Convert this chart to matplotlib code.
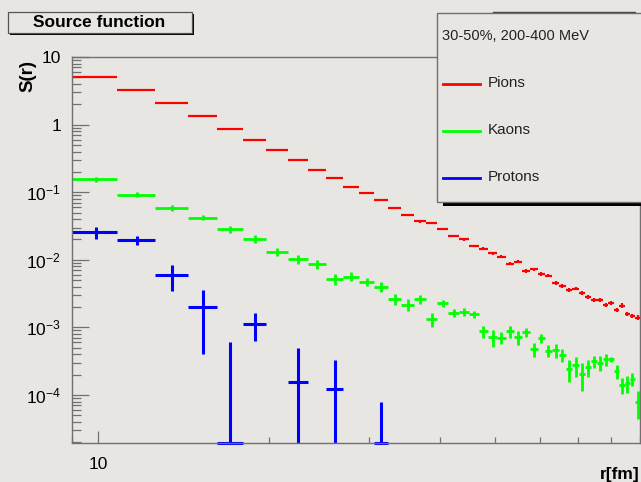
import numpy as np
import matplotlib
matplotlib.use("Agg")
import matplotlib.pyplot as plt
from matplotlib.patches import Rectangle
from matplotlib.lines import Line2D
from matplotlib.ticker import LogLocator, FuncFormatter, NullFormatter

plt.rcParams['font.family'] = ['Liberation Sans', 'DejaVu Sans']
plt.rcParams['mathtext.fontset'] = 'custom'
plt.rcParams['mathtext.rm'] = 'Liberation Sans'

# 45 bins of 1.8 fm between 9 and 90 fm
r_min, r_max, n_bins = 9.0, 90.0, 45
s_min, s_max = 1.95e-5, 10.0

pion_s = [5.14, 3.22, 2.07, 1.33, 0.852, 0.593, 0.417, 0.300, 0.216, 0.164,
          0.119, 0.096, 0.0757, 0.0583, 0.0459, 0.0369, 0.0345, 0.0288, 0.0227, 0.0200,
          0.01595, 0.01456, 0.01257, 0.01107, 0.00873, 0.00934, 0.00687, 0.0072, 0.00614, 0.00585,
          0.00456, 0.00412, 0.00356, 0.00376, 0.00321, 0.00286, 0.00255, 0.00258, 0.00213, 0.00231,
          0.00182, 0.0021, 0.00158, 0.00148, 0.0014]
pion_err = [0.02, 0.015, 0.012, 0.009, 0.007, 0.006, 0.005, 0.004, 0.0035, 0.003,
            0.0024, 0.0024, 0.0023, 0.0017, 0.0016, 0.0013, 0.0012, 0.0012, 0.0009, 0.0008,
            0.0007, 0.00065, 0.00063, 0.00055, 0.00044, 0.00047, 0.00041, 0.00043, 0.00037, 0.00035,
            0.0003, 0.00027, 0.00023, 0.00024, 0.00022, 0.0002, 0.00018, 0.00018, 0.00015, 0.00016,
            0.000137, 0.000158, 0.000119, 0.000111, 0.000105]

kaon_s = [0.155, 0.0918, 0.0589, 0.0419, 0.0281, 0.0202, 0.0130, 0.0102, 0.00863, 0.00517,
          0.00566, 0.00477, 0.00398, 0.00264, 0.00218, 0.00261, 0.00132, 0.00228, 0.00164, 0.0017,
          0.00158, 0.000887, 0.000716, 0.000707, 0.000887, 0.000716, 0.000858, 0.00048, 0.000699, 0.000453,
          0.000464, 0.000392, 0.000243, 0.000275, 0.000205, 0.000257, 0.000319, 0.000301, 0.000338, 0.000341,
          0.000227, 0.000141, 0.000149, 0.000175, 7.96e-5]
kaon_err = [0.012, 0.0074, 0.0057, 0.0037, 0.0034, 0.0027, 0.0018, 0.0015, 0.0013, 0.00098,
            0.00085, 0.00064, 0.00064, 0.00053, 0.00041, 0.00042, 0.0003, 0.00028, 0.00022, 0.00025,
            0.00019, 0.00018, 0.00021, 0.00014, 0.00018, 0.00016, 0.00013, 0.000115, 0.000105, 0.00009,
            0.00011, 0.000083, 0.000085, 0.000088, 0.000092, 0.00007, 0.000064, 0.000072, 0.000068, 0.00003,
            0.000052, 0.000037, 0.000042, 0.00004, 0.000036]

# protons only populate the first bins
proton_s = [0.0254, 0.0196, 0.00586, 0.0020, 0.0, 0.00113, 0.0, 1.55e-4, 0.0, 1.23e-4,
            0.0, 0.0, 0.0]
proton_err = [0.0054, 0.0031, 0.0024, 0.0016, 6.0e-4, 5.0e-4, 0.0, 3.35e-4, 0.0, 2.04e-4,
              0.0, 0.0, 7.9e-5]

labels = ["Pions", "Kaons", "Protons"]
colors = ["#ff0000", "#00ff00", "#0000ff"]
widths = [1.6, 2.0, 2.2]
header = "30-50%, 200-400 MeV"

edges = np.linspace(r_min, r_max, n_bins + 1)
centers = 0.5 * (edges[:-1] + edges[1:])

W, H = 641, 482
bg = "#e8e6e3"
fig = plt.figure(figsize=(W / 100, H / 100), dpi=100, facecolor=bg)


def fx(px):
    return px / W


def fy(py):
    return 1 - py / H


ax = fig.add_axes([fx(72), fy(443), fx(640) - fx(72), fy(57) - fy(443)])
ax.set_facecolor(bg)
ax.set_xscale("log")
ax.set_yscale("log")
ax.set_xlim(r_min, r_max)
ax.set_ylim(s_min, s_max)


def draw_hist(s, err, color, lw):
    s = np.asarray(s, dtype=float)
    err = np.asarray(err, dtype=float)
    n = len(s)
    lo, hi, c = edges[:n], edges[1:n + 1], centers[:n]
    keep = (s > 0) | (err > 0)
    y = np.clip(s, s_min, None)
    ax.hlines(y[keep], lo[keep], hi[keep], colors=color, lw=lw, clip_on=False)
    e = err > 0
    ax.vlines(c[e], np.clip(s - err, s_min, None)[e], (s + err)[e],
              colors=color, lw=lw, clip_on=False)


for s, err, col, lw in zip([pion_s, kaon_s, proton_s], [pion_err, kaon_err, proton_err],
                           colors, widths):
    draw_hist(s, err, col, lw)

# axis styling
for side in ["left", "bottom", "top", "right"]:
    ax.spines[side].set_color("#707070")
    ax.spines[side].set_linewidth(1.0)


def ylab(v, pos):
    e = int(round(np.log10(v)))
    if e == 1:
        return "10"
    if e == 0:
        return "1"
    return r"$\mathregular{10^{%d}}$" % e


ax.yaxis.set_major_locator(LogLocator(base=10, numticks=20))
ax.yaxis.set_minor_locator(LogLocator(base=10, subs=np.arange(2, 10), numticks=20))
ax.yaxis.set_major_formatter(FuncFormatter(ylab))
ax.yaxis.set_minor_formatter(NullFormatter())
ax.xaxis.set_major_locator(LogLocator(base=10, numticks=10))
ax.xaxis.set_minor_locator(LogLocator(base=10, subs=np.arange(2, 10), numticks=10))
ax.xaxis.set_major_formatter(FuncFormatter(lambda v, p: "%d" % v))
ax.xaxis.set_minor_formatter(NullFormatter())

ax.tick_params(axis="y", which="major", direction="in", length=12, width=0.9,
               color="#707070", labelsize=12.5, pad=8)
ax.tick_params(axis="y", which="minor", direction="in", length=6.5, width=0.9, color="#707070")
ax.tick_params(axis="x", which="major", direction="in", length=8.5, width=0.9,
               color="#707070", labelsize=12.5, pad=10)
ax.tick_params(axis="x", which="minor", direction="in", length=4.3, width=0.9, color="#707070")

fig.text(fx(28), fy(76), "S(r)", rotation=90, ha="center", va="center",
         fontsize=13.5, fontweight="bold")
fig.text(fx(640), fy(474), "r[fm]", ha="right", va="center",
         fontsize=12.5, fontweight="bold")

# title box with drop shadow
fig.patches.append(Rectangle((fx(9.5), fy(35)), fx(184), fy(12) - fy(33),
                             transform=fig.transFigure, facecolor="black", edgecolor="none", zorder=5))
fig.patches.append(Rectangle((fx(7.5), fy(33)), fx(184), fy(12) - fy(33),
                             transform=fig.transFigure, facecolor=bg, edgecolor="#555555",
                             lw=0.9, zorder=6))
fig.text(fx(99), fy(22.5), "Source function", ha="center", va="center",
         fontsize=12.5, fontweight="bold", zorder=7)

# box partially hidden behind the legend
fig.lines.append(Line2D([fx(493), fx(635), fx(635)], [fy(12), fy(12), fy(20)],
                        transform=fig.transFigure, color="#404040", lw=1.0, zorder=4))

# legend with drop shadow
fig.patches.append(Rectangle((fx(443), fy(205.5)), fx(220), fy(16) - fy(205.5),
                             transform=fig.transFigure, facecolor="black", edgecolor="none", zorder=5))
fig.patches.append(Rectangle((fx(437), fy(202)), fx(220), fy(13) - fy(202),
                             transform=fig.transFigure, facecolor=bg, edgecolor="#707070",
                             lw=1.0, zorder=6))
fig.text(fx(442), fy(36), header, ha="left", va="center", fontsize=10.5,
         color="#222222", zorder=7)
for i, (lab, col) in enumerate(zip(labels, colors)):
    y = 84 + 47 * i
    fig.lines.append(Line2D([fx(443), fx(480)], [fy(y), fy(y)], transform=fig.transFigure,
                            color=col, lw=2.0, zorder=7))
    fig.text(fx(488), fy(y - 1), lab, ha="left", va="center", fontsize=11,
             color="#222222", zorder=7)

fig.savefig("out.png", dpi=100, facecolor=bg)
